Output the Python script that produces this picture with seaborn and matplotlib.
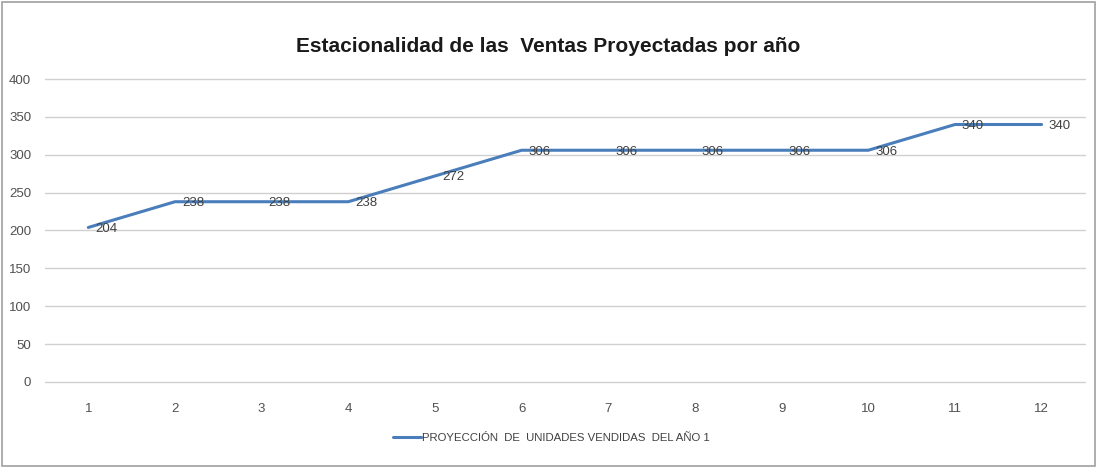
import matplotlib
matplotlib.use("Agg")
import matplotlib.pyplot as plt
import seaborn as sns
import pandas as pd
from matplotlib.patches import Rectangle

meses = [1, 2, 3, 4, 5, 6, 7, 8, 9, 10, 11, 12]
unidades = [204, 238, 238, 238, 272, 306, 306, 306, 306, 306, 340, 340]
y_ticks = [0, 50, 100, 150, 200, 250, 300, 350, 400]
titulo = "Estacionalidad de las  Ventas Proyectadas por año"
serie = "PROYECCIÓN  DE  UNIDADES VENDIDAS  DEL AÑO 1"

sns.set_style("white")
plt.rcParams["font.family"] = ["Liberation Sans", "DejaVu Sans"]

df = pd.DataFrame({"mes": meses, "unidades": unidades})

fig = plt.figure(figsize=(10.97, 4.68), dpi=100)
ax = fig.add_axes([0.041, 0.184, 0.948, 0.647])

sns.lineplot(data=df, x="mes", y="unidades", ax=ax, color="#4A7EBB",
             linewidth=2.2, label=serie)

for x, y in zip(meses, unidades):
    ax.annotate(f"{y}", (x, y), xytext=(5, -1), textcoords="offset points",
                ha="left", va="center", fontsize=9.5, color="#404040")

ax.set_xlim(0.5, 12.5)
ax.set_ylim(0, 400)
ax.set_xticks(meses)
ax.set_yticks(y_ticks)
ax.tick_params(axis="both", length=0, labelsize=9.5, labelcolor="#505050")
ax.tick_params(axis="x", pad=15)
ax.tick_params(axis="y", pad=10)
ax.yaxis.grid(True, color="#D0D0D0", linewidth=1)
for gl in ax.get_ygridlines():
    gl.set_clip_on(False)
ax.set_axisbelow(True)
for s in ax.spines.values():
    s.set_visible(False)
ax.set_xlabel("")
ax.set_ylabel("")

fig.text(0.5, 0.9, titulo, ha="center", va="center", fontsize=15,
         fontweight="bold", color="#1a1a1a")

leg = ax.legend(loc="upper center", bbox_to_anchor=(0.487, -0.135), frameon=False,
                fontsize=8.2, handlelength=2.4, handletextpad=0.1)
for t in leg.get_texts():
    t.set_color("#404040")

fig.patches.append(Rectangle((0.002, 0.004), 0.996, 0.992, transform=fig.transFigure,
                             fill=False, edgecolor="#A0A0A0", linewidth=1.2))

fig.savefig("out.png", dpi=100, facecolor="white")
